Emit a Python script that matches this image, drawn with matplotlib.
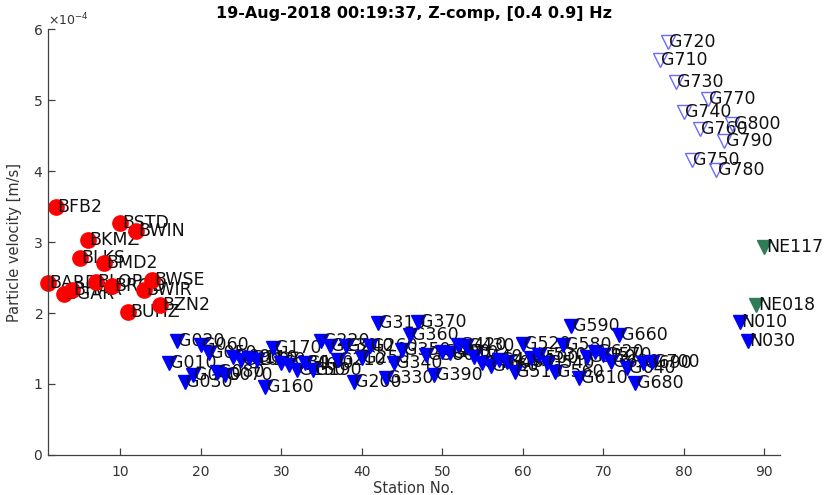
import numpy as np
import matplotlib
matplotlib.use("Agg")
import matplotlib.pyplot as plt
from matplotlib.ticker import ScalarFormatter

# ================================
# Station data (velocity in units of 1e-4 m/s)
# ================================
b_names = ["BARD", "BFB2", "BGAR", "BHAR", "BLKS", "BKMZ", "BLOP", "BMD2",
           "BROD", "BSTD", "BUHZ", "BWIN", "BWIR", "BWSE", "BZN2"]
b_station = list(range(1, 16))
b_vel = [2.42, 3.50, 2.27, 2.33, 2.77, 3.03, 2.44, 2.71,
         2.38, 3.27, 2.02, 3.15, 2.33, 2.47, 2.11]

g_names = ["G010", "G020", "G030", "G040", "G060", "G050", "G080", "G070",
           "G090", "G100", "G110", "G120", "G160", "G170", "G130", "G140",
           "G150", "G180", "G190", "G220", "G230", "G210", "G240", "G200",
           "G250", "G260", "G310", "G330", "G340", "G350", "G360", "G370",
           "G380", "G390", "G400", "G410", "G420", "G430", "G440", "G450",
           "G460", "G470", "G480", "G510", "G520", "G500", "G530", "G540",
           "G560", "G580", "G590", "G610", "G550", "G620", "G570", "G630",
           "G660", "G640", "G680", "G690", "G700"]
g_station = list(range(16, 77))
g_vel = [1.30, 1.60, 1.03, 1.13, 1.55, 1.44, 1.17, 1.13,
         1.38, 1.34, 1.36, 1.34, 0.96, 1.50, 1.29, 1.27,
         1.20, 1.29, 1.20, 1.60, 1.53, 1.34, 1.53, 1.03,
         1.36, 1.53, 1.86, 1.08, 1.30, 1.48, 1.69, 1.88,
         1.41, 1.13, 1.45, 1.44, 1.55, 1.53, 1.38, 1.29,
         1.25, 1.34, 1.31, 1.17, 1.57, 1.36, 1.41, 1.29,
         1.17, 1.55, 1.81, 1.08, 1.38, 1.45, 1.41, 1.31,
         1.69, 1.22, 1.01, 1.29, 1.31]

h_names = ["G710", "G720", "G730", "G740", "G750",
           "G760", "G770", "G780", "G790", "G800"]
h_station = list(range(77, 87))
h_vel = [5.56, 5.82, 5.26, 4.84, 4.16, 4.59, 5.01, 4.01, 4.43, 4.66]

n_names = ["N010", "N030"]
n_station = [87, 88]
n_vel = [1.88, 1.60]

ne_names = ["NE018", "NE117"]
ne_station = [89, 90]
ne_vel = [2.11, 2.93]

SCALE = 1e-4


# ================================
# Plot
# ================================
fig = plt.figure(figsize=(8.24, 4.95), dpi=100)
ax = fig.add_axes([0.058, 0.081, 0.889, 0.860])

groups = [
    (b_names, b_station, b_vel, dict(marker="o", ms=11, mfc="red", mec="red")),
    (g_names, g_station, g_vel, dict(marker="v", ms=10.5, mfc="blue", mec="blue")),
    (h_names, h_station, h_vel, dict(marker="v", ms=10.5, mfc="none", mec="#6a6aff", mew=1.0)),
    (n_names, n_station, n_vel, dict(marker="v", ms=10.5, mfc="blue", mec="blue")),
    (ne_names, ne_station, ne_vel, dict(marker="v", ms=10.5, mfc="#2e7d57", mec="#2e7d57")),
]

# each station: marker, then its name; later stations sit on top of earlier names
z = 2.0
for names, stations, vels, style in groups:
    for name, st, v in zip(names, stations, vels):
        ax.plot(st, v * SCALE, linestyle="none", clip_on=False, zorder=z, **style)
        ax.text(st + 0.2, v * SCALE, name, fontsize=12.5, color="#111111",
                ha="left", va="center", zorder=z + 0.0005)
        z += 0.001

ax.set_xlim(1, 92)
ax.set_ylim(0, 6e-4)
ax.set_xticks(range(10, 91, 10))
ax.set_yticks(np.arange(0, 7) * SCALE)

fmt = ScalarFormatter(useMathText=True)
fmt.set_powerlimits((-3, 3))
ax.yaxis.set_major_formatter(fmt)
ax.yaxis.get_offset_text().set_fontsize(9)
ax.yaxis.get_offset_text().set_color("#404040")

axis_color = "#404040"
for side in ["top", "right"]:
    ax.spines[side].set_visible(False)
for side in ["left", "bottom"]:
    ax.spines[side].set_color(axis_color)
    ax.spines[side].set_linewidth(0.9)
ax.tick_params(direction="in", length=5, width=0.9, colors=axis_color,
               labelsize=10, labelcolor="#333333")
ax.tick_params(axis="x", pad=7)

ax.set_xlabel("Station No.", fontsize=10.5, color="#333333", labelpad=2)
ax.set_ylabel("Particle velocity [m/s]", fontsize=10.5, color="#333333", labelpad=8)
ax.set_title("19-Aug-2018 00:19:37, Z-comp, [0.4 0.9] Hz",
             fontsize=11.5, fontweight="bold", pad=8)

fig.savefig("out.png", dpi=100)
